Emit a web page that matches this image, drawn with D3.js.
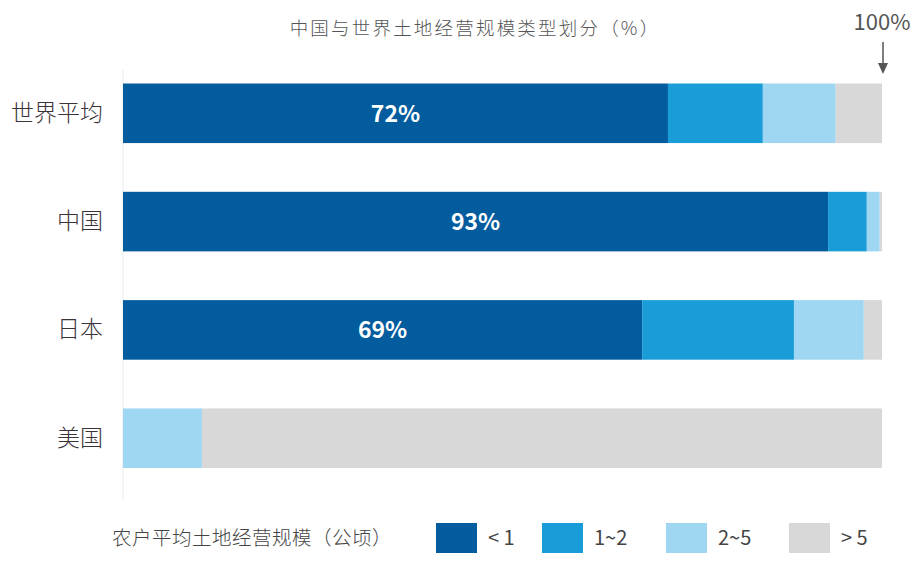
<!DOCTYPE html>
<html>
<head>
<meta charset="utf-8">
<title>中国与世界土地经营规模类型划分</title>
<script src="https://d3js.org/d3.v7.min.js"></script>
<style>
  body { margin: 0; background: #fff; }
  svg text { font-family: "Noto Sans CJK SC", "Open Sans", sans-serif; }
</style>
</head>
<body>
<svg width="924" height="562"></svg>
<script>
// data (percent of farms per size class)
const categories = ['世界平均', '中国', '日本', '美国'];
const sizeKeys = ['<1', '1~2', '2~5', '>5'];
const under1 = [71.8, 92.9, 68.4, 0];
const from1to2 = [12.5, 5.1, 20.0, 0];
const from2to5 = [9.6, 1.7, 9.2, 10.4];
const over5 = [6.1, 0.3, 2.4, 89.6];
const barLabels = ['72%', '93%', '69%', ''];
const colors = ['#035c9e', '#1a9cd8', '#9fd7f3', '#d8d8d8'];

const svg = d3.select('svg');

// table for d3.stack
const table = categories.map((c, i) => ({
  name: c,
  '<1': under1[i],
  '1~2': from1to2[i],
  '2~5': from2to5[i],
  '>5': over5[i],
  label: barLabels[i]
}));

const stacked = d3.stack().keys(sizeKeys)(table);

const xScale = d3.scaleLinear().domain([0, 100]).range([123, 882]);
const yScale = d3.scaleBand()
  .domain(categories)
  .range([83.5, 468])
  .paddingInner(0.45)
  .paddingOuter(0);
const color = d3.scaleOrdinal().domain(sizeKeys).range(colors);

// faint baseline on the left
svg.append('line')
  .attr('x1', xScale(0)).attr('x2', xScale(0))
  .attr('y1', 70).attr('y2', 500)
  .attr('stroke', '#f1f1f3')
  .attr('stroke-width', 1.5);

// title
svg.append('text')
  .attr('x', 475).attr('y', 35)
  .attr('text-anchor', 'middle')
  .attr('font-size', 18.5)
  .attr('font-weight', 300)
  .attr('fill', '#555')
  .attr('letter-spacing', 2.2)
  .text('中国与世界土地经营规模类型划分（%）');

// bars
svg.append('g').selectAll('g')
  .data(stacked)
  .join('g')
  .attr('fill', d => color(d.key))
  .selectAll('rect')
  .data(d => d)
  .join('rect')
  .attr('x', d => xScale(d[0]))
  .attr('y', d => yScale(d.data.name))
  .attr('width', d => xScale(d[1]) - xScale(d[0]))
  .attr('height', yScale.bandwidth());

// value labels inside the <1 segment
svg.append('g').selectAll('text')
  .data(stacked[0].filter(d => d.data.label))
  .join('text')
  .attr('x', d => (xScale(d[0]) + xScale(d[1])) / 2)
  .attr('y', d => yScale(d.data.name) + yScale.bandwidth() / 2)
  .attr('dy', '0.36em')
  .attr('text-anchor', 'middle')
  .attr('font-family', '"Open Sans", sans-serif')
  .attr('font-size', 23)
  .attr('font-weight', 600)
  .attr('fill', '#fff')
  .text(d => d.data.label);

// category axis
const yAxis = d3.axisLeft(yScale).tickSize(0).tickPadding(20);
const yAxisG = svg.append('g')
  .attr('transform', `translate(${xScale(0)},0)`)
  .call(yAxis);
yAxisG.select('.domain').remove();
yAxisG.selectAll('text')
  .attr('font-family', '"Noto Sans CJK SC", sans-serif')
  .attr('font-size', 23)
  .attr('font-weight', 300)
  .attr('fill', '#3a3338');

// 100% marker
svg.append('text')
  .attr('x', xScale(100)).attr('y', 30)
  .attr('text-anchor', 'middle')
  .attr('font-family', '"Open Sans", sans-serif')
  .attr('font-size', 22)
  .attr('fill', '#555')
  .text('100%');

svg.append('line')
  .attr('x1', xScale(100) + 1).attr('x2', xScale(100) + 1)
  .attr('y1', 42).attr('y2', 68)
  .attr('stroke', '#555')
  .attr('stroke-width', 1.5);
svg.append('path')
  .attr('d', `M${xScale(100) - 4},63 L${xScale(100) + 6},63 L${xScale(100) + 1},74 Z`)
  .attr('fill', '#555');

// legend
svg.append('text')
  .attr('x', 112).attr('y', 545)
  .attr('font-size', 19.5)
  .attr('font-weight', 300)
  .attr('letter-spacing', 0.5)
  .attr('fill', '#444')
  .text('农户平均土地经营规模（公顷）');

const legendX = [436, 542, 666, 789];
const legend = svg.append('g').selectAll('g')
  .data(sizeKeys)
  .join('g')
  .attr('transform', (d, i) => `translate(${legendX[i]},523)`);

legend.append('rect')
  .attr('width', 41).attr('height', 30)
  .attr('fill', d => color(d));

legend.append('text')
  .attr('x', 52)
  .attr('y', 15)
  .attr('dy', '0.36em')
  .attr('font-family', '"Open Sans", sans-serif')
  .attr('font-size', 20)
  .attr('fill', '#444')
  .text(d => d === '>5' ? '> 5' : d === '<1' ? '< 1' : d);
</script>
</body>
</html>
